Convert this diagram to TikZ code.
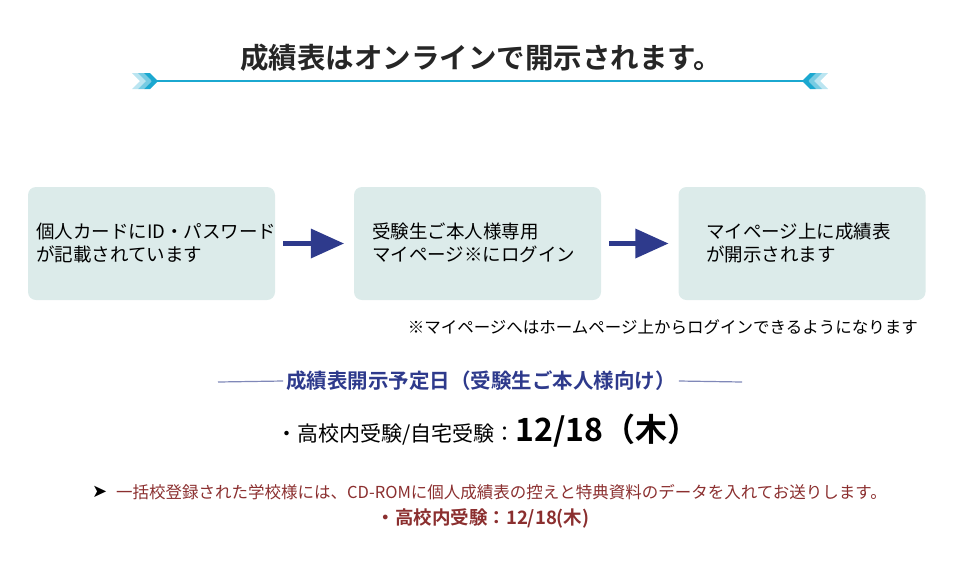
\documentclass[tikz,border=0pt]{standalone}
\usepackage{fontspec}
\setmainfont{Noto Sans CJK JP}
\newfontfamily\jpb{Noto Sans CJK JP Bold}
\definecolor{boxc}{HTML}{DCEBEA}
\definecolor{navy}{HTML}{2E3A8C}
\definecolor{cyanl}{HTML}{1BA8D0}
\definecolor{redd}{HTML}{8B2F2F}
\definecolor{gline}{HTML}{8088B8}
\tikzset{stepbox/.style={fill=boxc,rounded corners=8pt,minimum width=247pt,minimum height=113pt,inner sep=0pt},
 btxt/.style={font=\fontsize{18.5}{23}\selectfont,align=left},
 flow/.style={navy,line width=5pt}}
\begin{document}
\begin{tikzpicture}[x=1pt,y=-1pt]
\useasboundingbox (0,0) rectangle (960,563);
\node[font=\jpb\fontsize{28.5}{32}\selectfont,text=black!85] (title) at (481,58) {成績表はオンラインで開示されます。};
\coordinate (la) at (150,81); \coordinate (lb) at (810,81);
\draw[cyanl,line width=1.6pt] (la) -- (lb);
\foreach \i/\c in {0/cyanl!30,6/cyanl!60,12/cyanl} {
 \fill[\c] (132+\i,73) -- (138+\i,73) -- (146+\i,81) -- (138+\i,89) -- (132+\i,89) -- (140+\i,81) -- cycle;
 \fill[\c] (828-\i,73) -- (822-\i,73) -- (814-\i,81) -- (822-\i,89) -- (828-\i,89) -- (820-\i,81) -- cycle;}
\node[stepbox] (b1) at (151.5,243.5) {};
\node[stepbox] (b2) at (477.5,243.5) {};
\node[stepbox] (b3) at (802,243.5) {};
\node[btxt,anchor=west,inner sep=0pt] (t1) at (36,243) {個人カードにID・パスワード\\が記載されています};
\node[btxt,anchor=west,inner sep=0pt] (t2) at (372,243) {受験生ご本人様専用\\マイページ※にログイン};
\node[btxt,anchor=west,inner sep=0pt] (t3) at (706,243) {マイページ上に成績表\\が開示されます};
\foreach \a/\b in {b1/b2,b2/b3}{
 \path (\a.east) ++(8,0) coordinate (s) (\b.west) ++(-10,0) coordinate (e);
 \draw[flow] (s) -- ([xshift=-30]e);
 \fill[navy] (e) -- ++(-33,-15) -- ++(0,30) -- cycle;}
\node[font=\fontsize{16.5}{18}\selectfont,anchor=east,inner sep=0pt] (note) at (918,327) {※マイページへはホームページ上からログインできるようになります};
\node[font=\jpb\fontsize{20.5}{23}\selectfont,text=navy,inner sep=3pt] (hd) at (481,381) {成績表開示予定日（受験生ご本人様向け）};
\draw[gline,line width=1.2pt] (218,382) -- (hd.west);
\draw[gline,line width=1.2pt] (hd.east) -- (742,382);
\node[anchor=base west,inner sep=0pt] (dt) at (276,441) {\fontsize{21}{24}\selectfont ・高校内受験/自宅受験：\jpb\fontsize{32}{34}\selectfont 12/18（木）};
\node[anchor=west,inner sep=0pt] (ar) at (92,492) {\fontsize{18}{20}\selectfont\fontspec{DejaVu Sans}➤};
\node[anchor=west,inner sep=0pt,text=redd,font=\fontsize{16.5}{18}\selectfont] (bt) at (116,492) {一括校登録された学校様には、CD-ROMに個人成績表の控えと特典資料のデータを入れてお送りします。};
\node[text=redd,font=\jpb\fontsize{18.5}{21}\selectfont] (bt2) at (483,518) {・高校内受験：12/18(木)};
\end{tikzpicture}
\end{document}
